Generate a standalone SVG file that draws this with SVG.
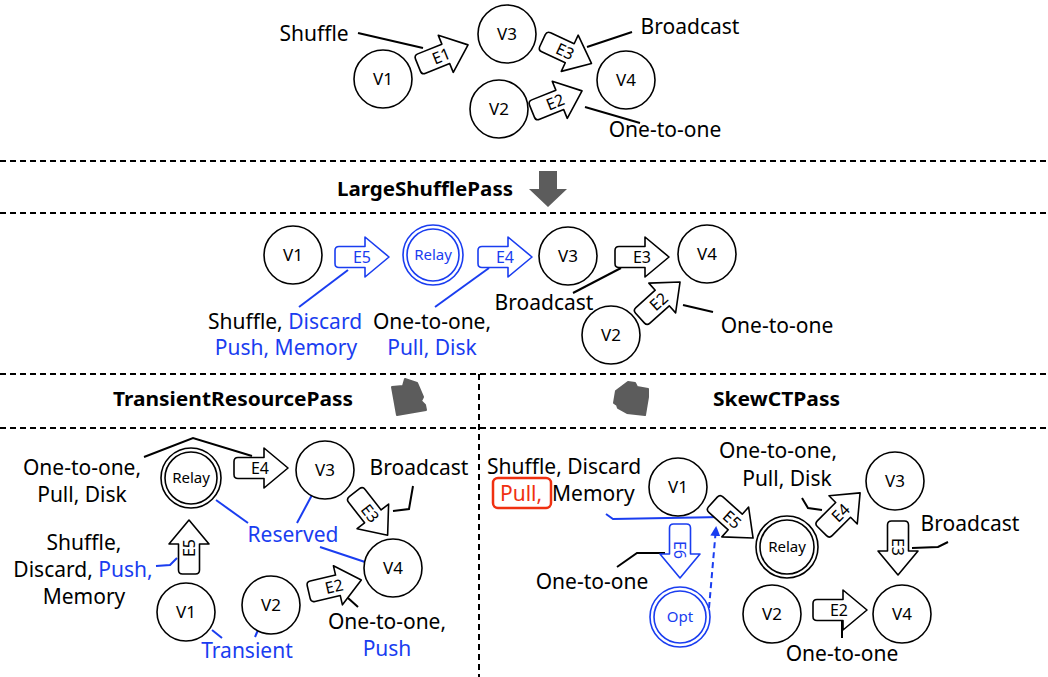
<svg xmlns="http://www.w3.org/2000/svg" width="1048" height="677" viewBox="0 0 1048 677">
<defs>
<style>
text{font-family:"Noto Sans","DejaVu Sans",sans-serif;fill:#000}
.t{font-size:21px}
.n{font-size:17px;text-anchor:middle}
.rl{font-size:15px;text-anchor:middle}
.e{font-size:16px;text-anchor:middle}
.m{text-anchor:middle}
.b{fill:#1a3df0}
.r{fill:#f03010}
.pass{font-size:19px;font-weight:bold}
.c{fill:#fff;stroke:#000;stroke-width:1.6}
.cb{fill:#fff;stroke:#1a3df0;stroke-width:1.6}
.arr{fill:#fff;stroke:#000;stroke-width:1.6;stroke-linejoin:round}
.arrb{fill:#fff;stroke:#1a3df0;stroke-width:1.6;stroke-linejoin:round}
.ln{fill:none;stroke:#000;stroke-width:2}
.lb{fill:none;stroke:#1a3df0;stroke-width:2}
.dash{fill:none;stroke:#000;stroke-width:2;stroke-dasharray:6 4}
.grey{fill:#5c5c5c;stroke:#5c5c5c;stroke-width:2;stroke-linejoin:round}
</style>
<path id="ar" d="M-23,-10.5 H3 V-20 L27,0 L3,20 V10.5 H-23 Q-27,10.5 -27,6.5 V-6.5 Q-27,-10.5 -23,-10.5 Z"/>
<marker id="mb" markerWidth="10" markerHeight="10" refX="8" refY="5" orient="auto" markerUnits="userSpaceOnUse">
<path d="M0,0 L10,5 L0,10 Z" fill="#1a3df0"/>
</marker>
</defs>

<!-- separators -->
<g id="separators">
<line class="dash" x1="0" y1="161" x2="1048" y2="161"/>
<line class="dash" x1="0" y1="213" x2="1048" y2="213"/>
<line class="dash" x1="0" y1="374" x2="1048" y2="374"/>
<line class="dash" x1="0" y1="428" x2="1048" y2="428"/>
<line class="dash" x1="479" y1="374" x2="479" y2="677"/>
</g>

<!-- pass labels -->
<g id="pass-large">
<text class="pass" x="337" y="196" textLength="176" lengthAdjust="spacingAndGlyphs">LargeShufflePass</text>
<polygon fill="#5c5c5c" points="539,171 557,171 557,189 567,189 548,207 529,189 539,189"/>
</g>
<g id="pass-transient">
<text class="pass" x="113" y="406" textLength="240" lengthAdjust="spacingAndGlyphs">TransientResourcePass</text>
<path class="grey" d="M392,387 L403,386 L405,379 L417,383 L423,397 L421,401 L425,405 L426,410 L397,415 Z"/>
</g>
<g id="pass-skew">
<text class="pass" x="713" y="406" textLength="127" lengthAdjust="spacingAndGlyphs">SkewCTPass</text>
<path class="grey" d="M616,391 L628,382 L635,383 L637,387 L648,389 L648,397 L645,415 L627,413 L618,408 L617,405 L614,403 Z"/>
</g>

<!-- connectors / annotation lines -->
<g id="connectors">
<line class="ln" x1="358" y1="33" x2="423" y2="48"/>
<line class="ln" x1="632" y1="32" x2="587" y2="47"/>
<line class="ln" x1="640" y1="123" x2="585" y2="107"/>

<line class="lb" x1="348" y1="270" x2="299" y2="307"/>
<line class="lb" x1="489" y1="268" x2="435" y2="307"/>
<line class="ln" x1="621" y1="268" x2="573" y2="293"/>
<line class="ln" x1="683" y1="305" x2="713" y2="312"/>

<polyline class="ln" points="144,457 193,438 252,456"/>
<polyline class="ln" points="393,511 409,509 413,486"/>
<line class="ln" x1="348" y1="598" x2="358" y2="607"/>
<polyline class="lb" points="156,566 170,565 177,558"/>
<line class="lb" x1="212" y1="630" x2="222" y2="638"/>
<line class="lb" x1="258" y1="630" x2="255" y2="637"/>
<line class="lb" x1="216" y1="500" x2="248" y2="523"/>
<line class="lb" x1="312" y1="495" x2="297" y2="523"/>
<line class="lb" x1="320" y1="547" x2="365" y2="562"/>

<polyline class="ln" points="617,567 637,553 665,553"/>
<polyline class="ln" points="802,498 808,508 822,510"/>
<polyline class="ln" points="912,548 938,547 948,542"/>
<line class="ln" x1="842" y1="620" x2="842" y2="638"/>
<polyline class="lb" points="606,514 613,519 722,517"/>
<line class="lb" x1="709" y1="608" x2="716" y2="528" stroke-dasharray="6 4" marker-end="url(#mb)"/>
</g>

<!-- top section -->
<g id="top-v1"><circle class="c" cx="383" cy="79" r="29"/><text class="n" x="383" y="85">V1</text></g>
<g id="top-v3"><circle class="c" cx="507" cy="34" r="29"/><text class="n" x="507" y="40">V3</text></g>
<g id="top-v2"><circle class="c" cx="499" cy="109" r="29"/><text class="n" x="499" y="115">V2</text></g>
<g id="top-v4"><circle class="c" cx="626" cy="80" r="29"/><text class="n" x="626" y="86">V4</text></g>
<g id="top-e1" transform="translate(443,55) rotate(-22)"><use href="#ar" class="arr"/><text class="e" x="-2" y="6">E1</text></g>
<g id="top-e3" transform="translate(567,52) rotate(25)"><use href="#ar" class="arr"/><text class="e" x="-2" y="6">E3</text></g>
<g id="top-e2" transform="translate(557,101) rotate(-22)"><use href="#ar" class="arr"/><text class="e" x="-2" y="6">E2</text></g>
<g id="top-labels">
<text class="t m" x="314" y="41">Shuffle</text>
<text class="t m" x="690" y="34">Broadcast</text>
<text class="t m" x="665" y="137">One-to-one</text>
</g>

<!-- middle section -->
<g id="mid-v1"><circle class="c" cx="293" cy="255" r="29"/><text class="n" x="293" y="261">V1</text></g>
<g id="mid-relay"><circle class="cb" cx="433" cy="255" r="30"/><circle class="cb" cx="433" cy="255" r="26"/><text class="rl b" x="433" y="260">Relay</text></g>
<g id="mid-v3"><circle class="c" cx="568" cy="256" r="29"/><text class="n" x="568" y="262">V3</text></g>
<g id="mid-v4"><circle class="c" cx="707" cy="254" r="29"/><text class="n" x="707" y="260">V4</text></g>
<g id="mid-v2"><circle class="c" cx="611" cy="335" r="29"/><text class="n" x="611" y="341">V2</text></g>
<g id="mid-e5" transform="translate(362,257)"><use href="#ar" class="arrb"/><text class="e b" x="0" y="6">E5</text></g>
<g id="mid-e4" transform="translate(505,257)"><use href="#ar" class="arrb"/><text class="e b" x="0" y="6">E4</text></g>
<g id="mid-e3" transform="translate(642,257)"><use href="#ar" class="arr"/><text class="e" x="0" y="6">E3</text></g>
<g id="mid-e2" transform="translate(660,300) rotate(-42)"><use href="#ar" class="arr"/><text class="e" x="-2" y="6">E2</text></g>
<g id="mid-labels">
<text class="t m" x="285" y="329">Shuffle, <tspan class="b">Discard</tspan></text>
<text class="t m b" x="286" y="355">Push, Memory</text>
<text class="t m" x="432" y="329">One-to-one,</text>
<text class="t m b" x="432" y="355">Pull, Disk</text>
<text class="t m" x="544" y="310">Broadcast</text>
<text class="t m" x="777" y="333">One-to-one</text>
</g>

<!-- bottom-left section -->
<g id="bl-relay"><circle class="c" cx="191" cy="478" r="30"/><circle class="c" cx="191" cy="478" r="26"/><text class="rl" x="191" y="483">Relay</text></g>
<g id="bl-v3"><circle class="c" cx="325" cy="470" r="29"/><text class="n" x="325" y="476">V3</text></g>
<g id="bl-v4"><circle class="c" cx="393" cy="568" r="29"/><text class="n" x="393" y="574">V4</text></g>
<g id="bl-v1"><circle class="c" cx="186" cy="612" r="29"/><text class="n" x="186" y="618">V1</text></g>
<g id="bl-v2"><circle class="c" cx="271" cy="605" r="29"/><text class="n" x="271" y="611">V2</text></g>
<g id="bl-e4" transform="translate(261,468)"><use href="#ar" class="arr"/><text class="e" x="-1" y="6">E4</text></g>
<g id="bl-e5" transform="translate(189,547) rotate(-90)"><use href="#ar" class="arr"/><text class="e" x="-1" y="6">E5</text></g>
<g id="bl-e3" transform="translate(371,514) rotate(52)"><use href="#ar" class="arr"/><text class="e" x="-1" y="6">E3</text></g>
<g id="bl-e2" transform="translate(335,586) rotate(-13)"><use href="#ar" class="arr"/><text class="e" x="-1" y="6">E2</text></g>
<g id="bl-labels">
<text class="t m" x="82" y="475">One-to-one,</text>
<text class="t m" x="82" y="502">Pull, Disk</text>
<text class="t m" x="84" y="550">Shuffle,</text>
<text class="t m" x="83" y="577">Discard, <tspan class="b">Push,</tspan></text>
<text class="t m" x="84" y="604">Memory</text>
<text class="t m" x="419" y="475">Broadcast</text>
<text class="t m b" x="293" y="542">Reserved</text>
<text class="t m b" x="247" y="658">Transient</text>
<text class="t m" x="387" y="629">One-to-one,</text>
<text class="t m b" x="387" y="656">Push</text>
</g>

<!-- bottom-right section -->
<g id="br-v1"><circle class="c" cx="678" cy="487" r="29"/><text class="n" x="678" y="493">V1</text></g>
<g id="br-relay"><circle class="c" cx="787" cy="547" r="31"/><circle class="c" cx="787" cy="547" r="27"/><text class="rl" x="787" y="552">Relay</text></g>
<g id="br-v3"><circle class="c" cx="895" cy="481" r="29"/><text class="n" x="895" y="487">V3</text></g>
<g id="br-v2"><circle class="c" cx="772" cy="614" r="29"/><text class="n" x="772" y="620">V2</text></g>
<g id="br-v4"><circle class="c" cx="902" cy="614" r="29"/><text class="n" x="902" y="620">V4</text></g>
<g id="br-opt"><circle class="cb" cx="680" cy="617" r="30"/><circle class="cb" cx="680" cy="617" r="26"/><text class="rl b" x="680" y="622">Opt</text></g>
<g id="br-e5" transform="translate(733,520) rotate(42)"><use href="#ar" class="arr"/><text class="e" x="-1" y="6">E5</text></g>
<g id="br-e6" transform="translate(680,551) rotate(90)"><use href="#ar" class="arrb"/><text class="e b" x="-1" y="6">E6</text></g>
<g id="br-e4" transform="translate(841,512) rotate(-45)"><use href="#ar" class="arr"/><text class="e" x="-1" y="6">E4</text></g>
<g id="br-e3" transform="translate(898,548) rotate(90)"><use href="#ar" class="arr"/><text class="e" x="-1" y="6">E3</text></g>
<g id="br-e2" transform="translate(840,610)"><use href="#ar" class="arr"/><text class="e" x="-1" y="6">E2</text></g>
<g id="br-labels">
<text class="t m" x="564" y="474">Shuffle, Discard</text>
<rect x="493" y="478" width="58" height="30" rx="5" fill="none" stroke="#f03010" stroke-width="2.5"/>
<text class="t r" x="500" y="501">Pull,</text>
<text class="t" x="552" y="501">Memory</text>
<text class="t m" x="592" y="589">One-to-one</text>
<text class="t m" x="778" y="458">One-to-one,</text>
<text class="t m" x="787" y="486">Pull, Disk</text>
<text class="t m" x="970" y="531">Broadcast</text>
<text class="t m" x="842" y="661">One-to-one</text>
</g>
</svg>
